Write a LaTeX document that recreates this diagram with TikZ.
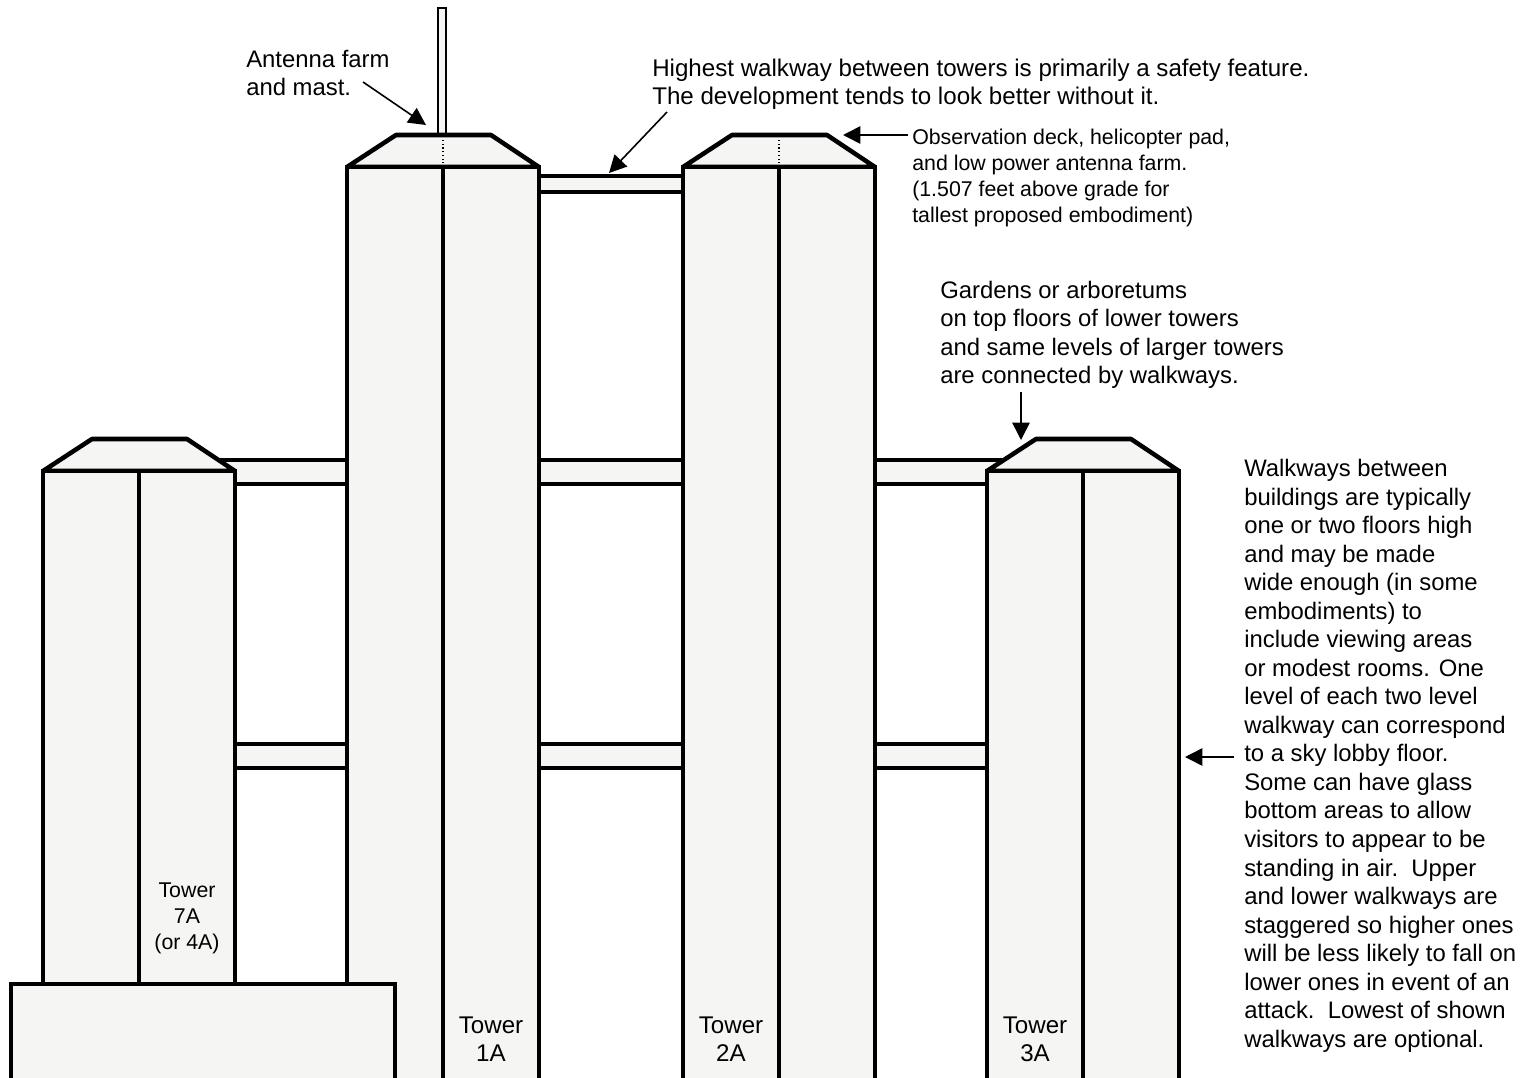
\documentclass[tikz,border=0pt]{standalone}
\usepackage{fontspec}
\setmainfont{Liberation Sans}
\usetikzlibrary{arrows.meta}
\definecolor{towerfill}{HTML}{F5F5F3}
\newcommand{\bigtxt}{\fontsize{18.1pt}{21.4pt}\selectfont}
\newcommand{\midtxt}{\fontsize{17.9pt}{21.4pt}\selectfont}
\newcommand{\smalltxt}{\fontsize{16pt}{19.5pt}\selectfont}
\tikzset{
  x=0.75pt,y=-0.75pt,
  thick line/.style={draw=black,line width=3.4pt,line join=miter},
  solid body/.style={thick line,fill=towerfill},
  roof body/.style={solid body,line join=bevel},
  callout/.style={-{Triangle[length=13pt,width=13pt]},line width=1.2pt,black},
  big label/.style={inner sep=0pt,anchor=north west,align=left,font=\bigtxt},
  mid label/.style={inner sep=0pt,anchor=north west,align=left,font=\midtxt},
  small label/.style={inner sep=0pt,anchor=north west,align=left,font=\smalltxt},
  tower label/.style={inner sep=0pt,anchor=north,align=center,font=\bigtxt},
}
\begin{document}
\begin{tikzpicture}
\useasboundingbox (0,0) rectangle (1535,1078);
\clip (0,0) rectangle (1535,1078);
% walkways
\foreach \xa/\xb/\ya/\yb in {539/683/176/192, 219/347/460/484, 539/683/460/484, 875/1005/460/484, 235/347/744/768, 539/683/744/768, 875/987/744/768}{
  \fill[towerfill] (\xa,\ya) rectangle (\xb,\yb);
  \draw[thick line] (\xa,\ya) -- (\xb,\ya) (\xa,\yb) -- (\xb,\yb);
}
% mast
\draw[fill=towerfill,draw=black,line width=1.5pt] (437.5,135) -- (437.5,8) -- (445.5,8) -- (445.5,135);
% towers
\foreach \cx/\top in {139/471, 443/167, 779/167, 1083/471}{
  \draw[roof body] (\cx-96,\top-0) -- (\cx-47,\top-32) -- (\cx+48,\top-32) -- (\cx+96,\top) -- cycle;
  \draw[solid body] (\cx-96,1090) -- (\cx-96,\top) -- (\cx+96,\top) -- (\cx+96,1090);
  \draw[thick line] (\cx,\top) -- (\cx,1090);
}
\draw[black,line width=0.8pt,dotted] (443,140) -- (443,165);
\draw[black,line width=0.8pt,dotted] (779,140) -- (779,165);
\draw[black,line width=0.8pt] (139,436.5) -- (139,438);
% podium
\draw[solid body] (11,1090) -- (11,984) -- (395,984) -- (395,1090);
% labels
\node[mid label] (antenna) at (246,49.5) {Antenna farm\\and mast.};
\node[big label] (highest) at (652,58.5) {Highest walkway between towers is primarily a safety feature.\\The development tends to look better without it.};
\node[small label] (deck) at (912,129) {Observation deck, helicopter pad,\\and low power antenna farm.\\(1.507 feet above grade for\\tallest proposed embodiment)};
\node[mid label] (gardens) at (940,280.5) {Gardens or arboretums\\on top floors of lower towers\\and same levels of larger towers\\are connected by walkways.};
\node[mid label] (walknote) at (1244,459) {Walkways between\\buildings are typically\\one or two floors high\\and may be made\\wide enough (in some\\embodiments) to\\include viewing areas\\or modest rooms. One\\level of each two level\\walkway can correspond\\to a sky lobby floor.\\Some can have glass\\bottom areas to allow\\visitors to appear to be\\standing in air.\ \ Upper\\and lower walkways are\\staggered so higher ones\\will be less likely to fall on\\lower ones in event of an\\attack.\ \ Lowest of shown\\walkways are optional.};
\node[tower label,font=\smalltxt] (t7) at (187,883) {Tower\\7A\\(or 4A)};
\node[tower label] (t1) at (491,1016.5) {Tower\\1A};
\node[tower label] (t2) at (731,1016.5) {Tower\\2A};
\node[tower label] (t3) at (1035,1016.5) {Tower\\3A};
% callouts
\coordinate (a1) at (363,82); \coordinate (a2) at (426,125);
\coordinate (h1) at (667,112); \coordinate (h2) at (609,173);
\coordinate (o1) at (908,135); \coordinate (o2) at (843,135);
\coordinate (g1) at (1021,392); \coordinate (g2) at (1021,440);
\coordinate (w1) at (1234,757); \coordinate (w2) at (1185,757);
\draw[callout] (a1) -- (a2);
\draw[callout] (h1) -- (h2);
\draw[callout] (o1) -- (o2);
\draw[callout] (g1) -- (g2);
\draw[callout] (w1) -- (w2);
\end{tikzpicture}
\end{document}
